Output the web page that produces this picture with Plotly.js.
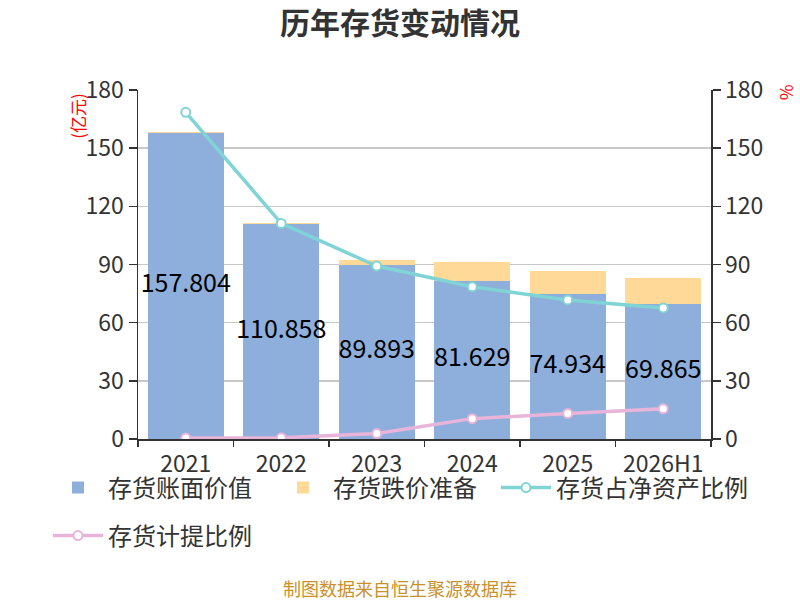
<!DOCTYPE html>
<html>
<head>
<meta charset="utf-8">
<script src="https://cdn.plot.ly/plotly-3.0.1.min.js"></script>
<style>html,body{margin:0;padding:0;background:#fff;}#chart{width:800px;height:600px;}</style>
</head>
<body>
<div id="chart"></div>
<script>
const categories = ["2021", "2022", "2023", "2024", "2025", "2026H1"];
const bookValue = [157.804, 110.858, 89.893, 81.629, 74.934, 69.865];
const impairment = [0.5, 0.4, 2.4, 9.6, 11.5, 13.2];
const netAssetRatio = [168.5, 111.2, 89.2, 78.5, 71.7, 67.6];
const provisionRatio = [0.5, 0.6, 2.8, 10.5, 13.2, 15.6];
const yTicks = [0, 30, 60, 90, 120, 150, 180];

const FONT = '"Noto Sans CJK SC", "Noto Sans", sans-serif';

const traces = [
  {
    type: 'bar', name: '存货账面价值', x: categories, y: bookValue,
    marker: {color: '#8eaedb'}, hoverinfo: 'none', legend: 'legend'
  },
  {
    type: 'bar', name: '存货跌价准备', x: categories, y: impairment,
    marker: {color: '#ffd998'}, hoverinfo: 'none', legend: 'legend'
  },
  {
    type: 'scatter', mode: 'lines+markers', name: '存货占净资产比例',
    x: categories, y: netAssetRatio, yaxis: 'y2', legend: 'legend3',
    line: {color: '#80d4d5', width: 3.5},
    marker: {color: '#ffffff', size: 9, line: {color: '#80d4d5', width: 2}},
    hoverinfo: 'none'
  },
  {
    type: 'scatter', mode: 'lines+markers', name: '存货计提比例',
    x: categories, y: provisionRatio, yaxis: 'y2', legend: 'legend2',
    line: {color: '#e8b4d9', width: 3.5},
    marker: {color: '#ffffff', size: 9, line: {color: '#e8b4d9', width: 2}},
    hoverinfo: 'none'
  },
  {
    type: 'scatter', mode: 'text', showlegend: false,
    x: categories, y: bookValue.map(v => v / 2),
    text: bookValue.map(v => v.toFixed(3)),
    textposition: 'middle center',
    textfont: {family: FONT, size: 25, color: '#000000'},
    hoverinfo: 'none'
  }
];

const legendCommon = {
  orientation: 'h',
  xref: 'container', yref: 'container',
  xanchor: 'left', yanchor: 'middle',
  font: {family: FONT, size: 24, color: '#333333'},
  itemwidth: 50, traceorder: 'normal',
  bgcolor: 'rgba(0,0,0,0)'
};

const layout = {
  width: 800, height: 600,
  paper_bgcolor: '#ffffff', plot_bgcolor: '#ffffff',
  margin: {l: 138, r: 89, t: 90, b: 161},
  barmode: 'stack', bargap: 0.2,
  font: {family: FONT, color: '#333333'},
  title: {
    text: '<b>历年存货变动情况</b>',
    font: {family: FONT, size: 30, color: '#333333'},
    x: 0.5, xanchor: 'center', y: 0.961, yanchor: 'middle'
  },
  xaxis: {
    type: 'category',
    showline: true, linecolor: '#333333', linewidth: 1.5,
    ticks: 'outside', ticklen: 6, tickcolor: '#333333', tickwidth: 1.5,
    tickson: 'boundaries', ticklabelstandoff: 4,
    tickfont: {family: FONT, size: 23, color: '#333333'},
    showgrid: false, fixedrange: true
  },
  yaxis: {
    range: [0, 180], tickvals: yTicks,
    showline: true, linecolor: '#333333', linewidth: 1.5,
    ticks: 'outside', ticklen: 8, tickcolor: '#333333', tickwidth: 1.5,
    tickfont: {family: FONT, size: 23, color: '#333333'},
    showgrid: true, gridcolor: '#c8c8c8', gridwidth: 1.5,
    zeroline: false, fixedrange: true
  },
  yaxis2: {
    overlaying: 'y', side: 'right', range: [0, 180], tickvals: yTicks,
    showline: true, linecolor: '#333333', linewidth: 1.5,
    ticks: 'outside', ticklen: 8, tickcolor: '#333333', tickwidth: 1.5,
    tickfont: {family: FONT, size: 23, color: '#333333'},
    showgrid: false, zeroline: false, fixedrange: true
  },
  legend: Object.assign({}, legendCommon, {x: 0.06, y: 1 - 488 / 600, entrywidth: 160}),
  legend3: Object.assign({}, legendCommon, {x: 0.62, y: 1 - 488 / 600}),
  legend2: Object.assign({}, legendCommon, {x: 0.06, y: 1 - 536 / 600}),
  annotations: [
    {
      text: '(亿元)', xref: 'paper', yref: 'paper',
      x: -0.106, y: 0.927, xanchor: 'center', yanchor: 'middle',
      textangle: -90, showarrow: false,
      font: {family: FONT, size: 17, color: '#ff0000'}
    },
    {
      text: '%', xref: 'paper', yref: 'paper',
      x: 1.133, y: 0.992, xanchor: 'center', yanchor: 'middle',
      textangle: 90, showarrow: false,
      font: {family: FONT, size: 17, color: '#ff0000'}
    },
    {
      text: '制图数据来自恒生聚源数据库', xref: 'paper', yref: 'paper',
      x: 0.457, y: -0.428, xanchor: 'center', yanchor: 'middle',
      showarrow: false,
      font: {family: FONT, size: 18, color: '#c9912b'}
    }
  ]
};

Plotly.newPlot('chart', traces, layout, {staticPlot: true, displayModeBar: false});
</script>
</body>
</html>
